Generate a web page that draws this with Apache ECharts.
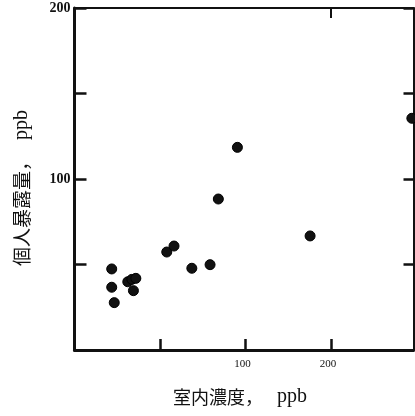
<!DOCTYPE html>
<html>
<head>
<meta charset="utf-8">
<script src="https://cdn.jsdelivr.net/npm/echarts@6/dist/echarts.min.js"></script>
<style>
  html, body { margin: 0; padding: 0; background: #fff; }
  #chart { width: 415px; height: 416px; }
</style>
</head>
<body>
<div id="chart"></div>
<script>
// Indoor concentration (ppb, log scale) vs personal exposure (ppb)
const indoorPpb   = [33.8, 33.8, 34.5, 38.5, 39.8, 41.1, 40.3, 52.8, 56.0, 64.7, 75.0, 93.6, 80.2, 168.7, 384.8];
const exposurePpb = [47.4, 36.7, 27.7, 39.9, 41.3, 41.9, 34.7, 57.3, 60.8, 47.8, 49.9, 118.5, 88.3, 66.7, 135.5];

const xTickValues  = [50, 100, 200];
const xLabelValues = [100, 200];
const yLabelValues = [100, 200];

const xNameMain = '室内濃度，';
const yNameMain = '個人暴露量，';
const unitText = 'ppb';

const points = indoorPpb.map((x, i) => [x, exposurePpb[i]]);

const serif = "'Liberation Serif', 'DejaVu Serif', serif";
const cjk = "'Noto Sans CJK JP', 'Liberation Serif', sans-serif";
const ink = '#111';

const chart = echarts.init(document.getElementById('chart'), null, { renderer: 'canvas' });

const xRange = { min: 25, max: 390 };
const yRange = { min: 0, max: 200 };

chart.setOption({
  animation: false,
  backgroundColor: '#fff',
  grid: { left: 74.5, right: 1.5, top: 8, bottom: 66 },
  xAxis: [
    {
      type: 'log', logBase: 2, ...xRange,
      position: 'bottom',
      name: '{c|' + xNameMain + '}{u|' + unitText + '}',
      nameLocation: 'middle', nameGap: 37,
      nameTextStyle: {
        color: ink, padding: [0, 8, 0, 0],
        rich: {
          c: { fontFamily: cjk, fontSize: 18, color: ink, padding: [0, 14, 0, 0] },
          u: { fontFamily: serif, fontSize: 20, color: ink }
        }
      },
      axisLine: { show: true, lineStyle: { color: ink, width: 3 } },
      axisTick: { show: true, inside: true, length: 11, customValues: xTickValues, lineStyle: { color: ink, width: 2.5 } },
      axisLabel: { show: true, customValues: xLabelValues, margin: 9, fontFamily: serif, fontSize: 11, color: ink, padding: [0, 6, 0, 0] },
      splitLine: { show: false },
      minorTick: { show: false }
    },
    {
      type: 'log', logBase: 2, ...xRange,
      position: 'top',
      axisLine: { show: true, onZero: false, lineStyle: { color: ink, width: 2 } },
      axisTick: { show: true, inside: true, length: 10, customValues: [200], lineStyle: { color: ink, width: 2 } },
      axisLabel: { show: false },
      splitLine: { show: false }
    }
  ],
  yAxis: [
    {
      type: 'value', ...yRange, interval: 50,
      position: 'left',
      name: '{c|' + yNameMain + '}{u|' + unitText + '}',
      nameLocation: 'middle', nameGap: 43,
      nameTextStyle: {
        color: ink, padding: [0, 0, 0, 0],
        rich: {
          c: { fontFamily: cjk, fontSize: 19, color: ink, padding: [0, 12, 0, 0] },
          u: { fontFamily: serif, fontSize: 20, color: ink, padding: [0, 18, 0, 0] }
        }
      },
      axisLine: { show: true, lineStyle: { color: ink, width: 3 } },
      axisTick: { show: true, inside: true, length: 12, lineStyle: { color: ink, width: 2.5 } },
      axisLabel: { show: true, customValues: yLabelValues, margin: 4, fontFamily: serif, fontWeight: 'bold', fontSize: 14, color: ink },
      splitLine: { show: false }
    },
    {
      type: 'value', ...yRange, interval: 50,
      position: 'right',
      axisLine: { show: true, onZero: false, lineStyle: { color: ink, width: 2 } },
      axisTick: { show: true, inside: true, length: 10, lineStyle: { color: ink, width: 2.5 } },
      axisLabel: { show: false },
      splitLine: { show: false }
    }
  ],
  series: [
    {
      type: 'scatter',
      xAxisIndex: 0, yAxisIndex: 0,
      data: points,
      symbol: 'circle',
      symbolSize: 10,
      clip: true,
      itemStyle: { color: '#111', opacity: 1, borderColor: '#000', borderWidth: 1 }
    }
  ]
});
</script>
</body>
</html>
